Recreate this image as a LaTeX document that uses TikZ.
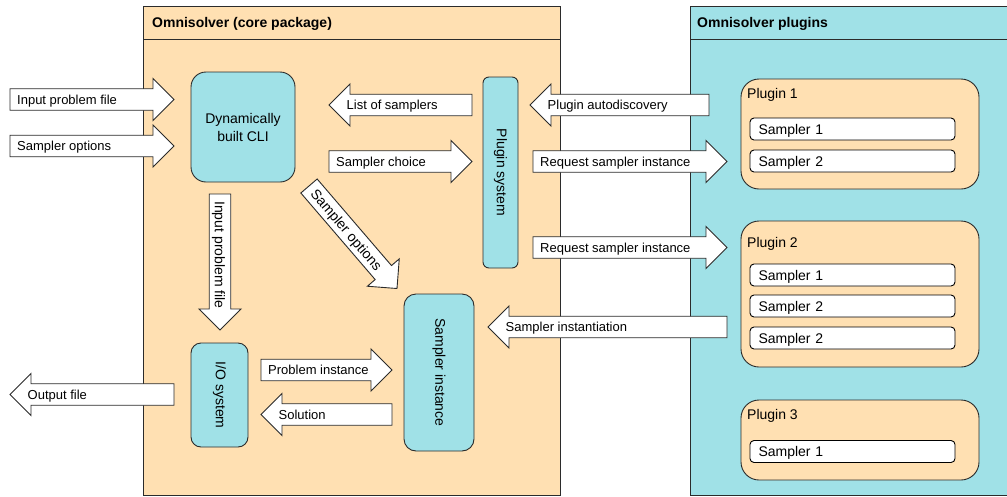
\documentclass[tikz,border=0pt]{standalone}
\usepackage{fontspec}
\setmainfont{Liberation Sans}
\usetikzlibrary{calc}

\definecolor{peach}{HTML}{FFE0B2}
\definecolor{aqua}{HTML}{A0E1E7}
\definecolor{edge}{HTML}{2B2B2B}

\tikzset{
  frame/.style={draw=edge, fill=#1, line width=0.9pt},
  block/.style={draw=edge, fill=aqua, line width=0.9pt, rounded corners=#1, inner sep=0pt,
    align=center, font=\fontsize{14}{18}\selectfont},
  plugbox/.style={draw=edge, fill=peach, line width=0.9pt, rounded corners=18pt,
    minimum width=238pt},
  sampler/.style={draw=black, fill=white, line width=0.9pt, rounded corners=4pt,
    minimum width=205pt, minimum height=22pt, text width=188pt, inner xsep=8.5pt,
    inner ysep=0pt, text height=10.1pt, text depth=0pt, align=left,
    font=\fontsize{14}{16}\selectfont},
  fat/.style={draw=edge, fill=white, line width=0.9pt, line join=miter},
  fattext/.style={inner sep=0pt, text height=9.4pt, text depth=0pt, font=\fontsize{13}{15}\selectfont},
  title/.style={anchor=west, inner sep=0pt, text height=10.1pt, text depth=0pt,
    font=\bfseries\fontsize{14}{16}\selectfont},
  plugname/.style={anchor=west, inner sep=0pt, text height=10.1pt, text depth=0pt,
    font=\fontsize{14}{16}\selectfont},
}

% fat arrow from tail #3 to tip #4, text #5 starts at the tail
\newcommand{\fatarrow}[5][]{%
  \coordinate (#2-h) at ($(#4)!21pt!(#3)$);
  \draw[fat] ($(#3)!10.75pt!90:(#4)$) -- ($(#2-h)!10.75pt!90:(#4)$) -- ($(#2-h)!21pt!90:(#4)$) -- (#4)
    -- ($(#2-h)!21pt!-90:(#4)$) -- ($(#2-h)!10.75pt!-90:(#4)$) -- ($(#3)!10.75pt!-90:(#4)$) -- cycle;
  \path ($(#3)!7pt!(#4)$) -- (#4) node[fattext, #1, pos=0, sloped, anchor=west] (#2) {#5};
}
% same, but the text starts just behind the head
\newcommand{\fatarrowback}[5][]{%
  \coordinate (#2-h) at ($(#4)!21pt!(#3)$);
  \draw[fat] ($(#3)!10.75pt!90:(#4)$) -- ($(#2-h)!10.75pt!90:(#4)$) -- ($(#2-h)!21pt!90:(#4)$) -- (#4)
    -- ($(#2-h)!21pt!-90:(#4)$) -- ($(#2-h)!10.75pt!-90:(#4)$) -- ($(#3)!10.75pt!-90:(#4)$) -- cycle;
  \path ($(#2-h)!3.5pt!(#4)$) -- (#4) node[fattext, #1, pos=0, sloped, anchor=west] (#2) {#5};
}

\begin{document}
\begin{tikzpicture}[x=1pt, y=-1pt]
  \useasboundingbox (0,0) rectangle (1007,496);

  % containers
  \draw[frame=peach] (143,6) rectangle (560,495.5);
  \draw[edge, line width=0.9pt] (143,39) -- (560,39);
  \node (coretitle) [title] at (152,22.5) {Omnisolver (core package)};
  \draw[frame=aqua] (690,6) rectangle (1012,495.5);
  \draw[edge, line width=0.9pt] (690,39) -- (1012,39);
  \node (plugtitle) [title] at (697,22.5) {Omnisolver plugins};

  % core components
  \node (cli) [block=15pt, minimum width=104pt, minimum height=110pt] at (243,127) {Dynamically\\built CLI};
  \node (plugsys) [block=6pt, rotate=-90, minimum width=191pt, minimum height=35pt] at (500.5,172.5) {Plugin system};
  \node (io) [block=10pt, rotate=-90, minimum width=104pt, minimum height=57pt] at (219.5,395) {I/O system};
  \node (sinst) [block=12pt, rotate=-90, minimum width=157pt, minimum height=70pt] at (439,372.5) {Sampler instance};

  % plugins
  \node (plug1) [plugbox, minimum height=110pt] at (860,134) {};
  \node (plug1name) [plugname] at (747,93.5) {Plugin 1};
  \node (p1s1) [sampler] at (852.5,129) {Sampler 1};
  \node (p1s2) [sampler] at (852.5,161) {Sampler 2};

  \node (plug2) [plugbox, minimum height=146pt] at (860,294) {};
  \node (plug2name) [plugname] at (747,242) {Plugin 2};
  \node (p2s1) [sampler] at (852.5,275) {Sampler 1};
  \node (p2s2) [sampler] at (852.5,306) {Sampler 2};
  \node (p2s3) [sampler] at (852.5,338) {Sampler 2};

  \node (plug3) [plugbox, minimum height=80pt] at (860,440) {};
  \node (plug3name) [plugname] at (747,414) {Plugin 3};
  \node (p3s1) [sampler] at (852.5,451.5) {Sampler 1};

  % arrow ends
  \coordinate (inprob-a) at (10,99.5);    \coordinate (inprob-b) at (174,99.5);
  \coordinate (sopt-a) at (10,146);       \coordinate (sopt-b) at (174,146);
  \coordinate (list-a) at (472,105);      \coordinate (list-b) at (329,105);
  \coordinate (choice-a) at (329,161.5);  \coordinate (choice-b) at (472,161.5);
  \coordinate (disc-a) at (709,105);      \coordinate (disc-b) at (530,105);
  \coordinate (reqa-a) at (533,161.5);    \coordinate (reqa-b) at (727,161.5);
  \coordinate (reqb-a) at (533,247.5);    \coordinate (reqb-b) at (727,247.5);
  \coordinate (make-a) at (727,327);      \coordinate (make-b) at (488,327);
  \coordinate (file-a) at (220,194);      \coordinate (file-b) at (220,330);
  \coordinate (diag-a) at (309,186);      \coordinate (diag-b) at (397,288.5);
  \coordinate (prob-a) at (261,370);      \coordinate (prob-b) at (392,370);
  \coordinate (sol-a) at (392,414.5);     \coordinate (sol-b) at (261,414.5);
  \coordinate (out-a) at (174,394.5);     \coordinate (out-b) at (10,394.5);

  % flows
  \fatarrow{inprob}{inprob-a}{inprob-b}{Input problem file}
  \fatarrow{sopt}{sopt-a}{sopt-b}{Sampler options}
  \fatarrowback{list}{list-a}{list-b}{List of samplers}
  \fatarrow{choice}{choice-a}{choice-b}{Sampler choice}
  \fatarrowback{disc}{disc-a}{disc-b}{Plugin autodiscovery}
  \fatarrow{reqa}{reqa-a}{reqa-b}{Request sampler instance}
  \fatarrow{reqb}{reqb-a}{reqb-b}{Request sampler instance}
  \fatarrowback{make}{make-a}{make-b}{Sampler instantiation}
  \fatarrow[font=\fontsize{14}{16}\selectfont, text height=10.1pt]{file}{file-a}{file-b}{Input problem file}
  \fatarrow[font=\fontsize{14}{16}\selectfont, text height=10.1pt]{diag}{diag-a}{diag-b}{Sampler options}
  \fatarrow{prob}{prob-a}{prob-b}{Problem instance}
  \fatarrowback{sol}{sol-a}{sol-b}{Solution}
  \fatarrowback{out}{out-a}{out-b}{Output file}
\end{tikzpicture}
\end{document}
